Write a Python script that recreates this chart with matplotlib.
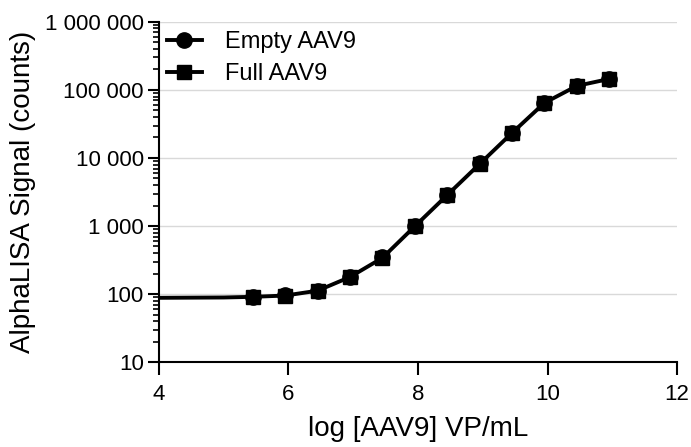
import matplotlib
matplotlib.use("Agg")
import matplotlib.pyplot as plt
from matplotlib.ticker import FixedLocator, LogLocator, NullFormatter
import numpy as np

plt.rcParams['font.family'] = ['Liberation Sans', 'DejaVu Sans']

# log concentration (VP/mL)
log_conc = [5.45, 5.95, 6.45, 6.95, 7.45, 7.95, 8.45, 8.95, 9.45, 9.95, 10.45, 10.95]
empty_signal = [92, 96, 110, 180, 345, 1000, 2900, 8300, 23500, 65000, 115000, 146000]
full_signal = [91, 95, 112, 178, 340, 990, 2850, 8150, 23300, 64400, 114600, 145000]

# fitted curve (drawn from the lower plateau through the data)
fit_x = [4.0, 5.0] + log_conc
fit_y = [88, 89] + full_signal

y_ticks = [10, 100, 1000, 10000, 100000, 1000000]
y_labels = ["10", "100", "1 000", "10 000", "100 000", "1 000 000"]
x_ticks = [4, 6, 8, 10, 12]

fig = plt.figure(figsize=(6.91, 4.47), dpi=100)
ax = fig.add_axes([0.230, 0.190, 0.750, 0.761])

ax.plot(fit_x, fit_y, color='black', lw=2.8, zorder=3)
ax.plot(log_conc, empty_signal, 'o', color='black', ms=11, zorder=4)
ax.plot(log_conc, full_signal, 's', color='black', ms=10.5, zorder=5)

# legend proxies
ax.plot([], [], '-o', color='black', lw=2.8, ms=11, label='Empty AAV9')
ax.plot([], [], '-s', color='black', lw=2.8, ms=10.5, label='Full AAV9')

ax.set_yscale('log')
ax.set_ylim(10, 1000000)
ax.set_xlim(4, 12)
ax.yaxis.set_major_locator(FixedLocator(y_ticks))
ax.set_yticklabels(y_labels)
ax.yaxis.set_minor_locator(LogLocator(base=10, subs=np.arange(2, 10)))
ax.yaxis.set_minor_formatter(NullFormatter())
ax.set_xticks(x_ticks)

ax.grid(axis='y', which='major', color='#d9d9d9', lw=1)
ax.set_axisbelow(True)

for s in ['top', 'right']:
    ax.spines[s].set_visible(False)
for s in ['left', 'bottom']:
    ax.spines[s].set_linewidth(1.5)

ax.tick_params(which='major', direction='out', length=8, width=1.5, labelsize=16,
               colors='black', pad=3)
ax.tick_params(axis='x', which='major', length=9, pad=7)
ax.tick_params(which='minor', direction='out', length=4, width=1.2)

ax.set_xlabel('log [AAV9] VP/mL', fontsize=20, labelpad=8)
ax.set_ylabel('AlphaLISA Signal (counts)', fontsize=20, labelpad=6)

ax.legend(loc='upper left', bbox_to_anchor=(0.015, 0.972), frameon=False, fontsize=17,
          handlelength=1.5, handletextpad=0.95, labelspacing=0.4,
          borderpad=0, borderaxespad=0)

fig.savefig('out.png', dpi=100)
